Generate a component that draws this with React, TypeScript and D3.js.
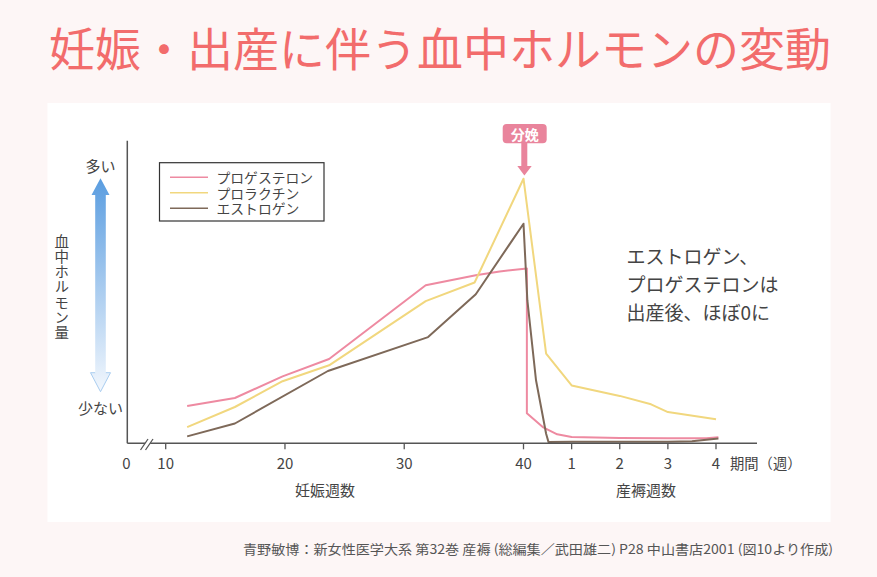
import React from "react";
import * as d3 from "d3";

// ---- data (t: pregnancy week; values >40 are 40 + postpartum weeks) ----
const progesteroneT = [11.8, 15.8, 19.8, 23.7, 31.8, 36, 38, 40.07, 40.07, 40.4, 40.7, 41, 42, 43, 43.8, 44.05];
const progesteroneV = [12.4, 15.1, 22.3, 28.1, 52.7, 56, 57.3, 58.3, 10, 5.4, 3, 2.1, 1.8, 1.7, 1.7, 2.0];

const prolactinT = [11.8, 15.8, 19.8, 23.7, 31.8, 35.9, 40, 40.47, 41, 42, 42.65, 43, 44];
const prolactinV = [5.4, 12.1, 20.7, 26, 47.4, 53.6, 88.2, 29.9, 19.3, 15.8, 13, 10.4, 8];

const estrogenT = [11.8, 15.8, 23.6, 32, 36, 40, 40.08, 40.26, 40.47, 40.52, 41, 42, 43, 43.5, 44.05];
const estrogenV = [2.3, 6.6, 24.1, 35.4, 49.7, 73.2, 47.7, 21, 3.2, 0.4, 0.5, 0.5, 0.5, 0.7, 1.6];

const pregTicks = [10, 20, 30, 40];
const postTicks = [1, 2, 3, 4];

const seriesNames = ["プロゲステロン", "プロラクチン", "エストロゲン"];
const seriesColors = ["#ee8aa1", "#f1d77e", "#7e6959"];

const title = "妊娠・出産に伴う血中ホルモンの変動";
const yLabel = "血中ホルモン量";
const noteLines = ["エストロゲン、", "プロゲステロンは", "出産後、ほぼ0に"];
const footer = "青野敏博：新女性医学大系 第32巻 産褥 (総編集／武田雄二) P28 中山書店2001 (図10より作成)";

const FONT = '"Noto Sans CJK JP", "Noto Sans", sans-serif';

export default function App() {
  const W = 877, H = 577;
  const x = d3.scaleLinear().domain([0, 10, 40, 44]).range([127.3, 165.7, 523.5, 716]);
  const y = d3.scaleLinear().domain([0, 100]).range([443.3, 143.3]);
  const axisY = 443.3, axisX = 127.3;

  const line = d3
    .line<[number, number]>()
    .x((d) => x(d[0]))
    .y((d) => y(d[1]));

  const series = [
    d3.zip(progesteroneT, progesteroneV) as [number, number][],
    d3.zip(prolactinT, prolactinV) as [number, number][],
    d3.zip(estrogenT, estrogenV) as [number, number][],
  ];

  const tickColor = "#555";

  return (
    <div style={{ position: "absolute", left: 0, top: 0 }}>
      <svg width={W} height={H} style={{ display: "block", fontFamily: FONT }}>
        <defs>
          <linearGradient id="arrowGrad" x1="0" y1="0" x2="0" y2="1">
            <stop offset="0%" stopColor="#5a9de0" />
            <stop offset="100%" stopColor="#f2f7fd" />
          </linearGradient>
        </defs>
        <rect x={0} y={0} width={W} height={H} fill="#fdf6f6" />
        <rect x={47.5} y={103} width={783} height={419} fill="#ffffff" />

        {/* Title */}
        <text x={440} y={46} textAnchor="middle" dominantBaseline="central" fontSize={46} fill="#f26c6c">
          {title}
        </text>

        {/* Lines */}
        {series.map((s, i) => (
          <path key={i} d={line(s) || ""} fill="none" stroke={seriesColors[i]} strokeWidth={2} strokeLinejoin="round" />
        ))}

        {/* Axes */}
        <line x1={axisX} y1={140.7} x2={axisX} y2={axisY} stroke={tickColor} strokeWidth={1.5} />
        <line x1={axisX} y1={axisY} x2={757} y2={axisY} stroke={tickColor} strokeWidth={1.5} />
        {/* break mark */}
        <polygon points="141,450 146,450 153,439 148,439" fill="#fff" />
        <line x1={140.5} y1={450} x2={148} y2={439} stroke={tickColor} strokeWidth={1.3} />
        <line x1={145.5} y1={450} x2={153} y2={439} stroke={tickColor} strokeWidth={1.3} />

        {pregTicks.map((t) => (
          <g key={"p" + t}>
            <line x1={x(t)} y1={axisY} x2={x(t)} y2={axisY + 6} stroke={tickColor} strokeWidth={1.3} />
            <text x={x(t)} y={462} textAnchor="middle" dominantBaseline="central" fontSize={15} fill="#444">
              {t}
            </text>
          </g>
        ))}
        {postTicks.map((t) => (
          <g key={"q" + t}>
            <line x1={x(40 + t)} y1={axisY} x2={x(40 + t)} y2={axisY + 6} stroke={tickColor} strokeWidth={1.3} />
            <text x={x(40 + t)} y={462} textAnchor="middle" dominantBaseline="central" fontSize={15} fill="#444">
              {t}
            </text>
          </g>
        ))}
        <text x={x(0) - 1} y={462} textAnchor="middle" dominantBaseline="central" fontSize={15} fill="#444">
          0
        </text>
        <text x={730} y={462} dominantBaseline="central" fontSize={14.3} fill="#444">
          期間（週）
        </text>
        <text x={325} y={489.5} textAnchor="middle" dominantBaseline="central" fontSize={15} fill="#444">
          妊娠週数
        </text>
        <text x={646} y={489.5} textAnchor="middle" dominantBaseline="central" fontSize={15} fill="#444">
          産褥週数
        </text>

        {/* Y indicator */}
        <text x={100.5} y={165.7} textAnchor="middle" dominantBaseline="central" fontSize={15} fill="#444">
          多い
        </text>
        <text x={100.5} y={407.7} textAnchor="middle" dominantBaseline="central" fontSize={15} fill="#444">
          少ない
        </text>
        <path
          d="M100.5,178.3 L109.5,195 L105.8,195 L105.8,372.7 L110.5,372.7 L100.5,391.7 L90.5,372.7 L95.2,372.7 L95.2,195 L91.5,195 Z"
          fill="url(#arrowGrad)"
        />
        <path
          d="M95.2,372.7 L90.5,372.7 L100.5,391.7 L110.5,372.7 L105.8,372.7"
          fill="none"
          stroke="#a9cdf0"
          strokeWidth={1}
        />
        <text
          x={61.7}
          y={287.3}
          textAnchor="middle"
          fontSize={14.5}
          fill="#444"
          letterSpacing={0.7}
          style={{ writingMode: "vertical-rl" }}
        >
          {yLabel}
        </text>

        {/* Legend */}
        <rect x={159.5} y={162.7} width={164.5} height={58.3} fill="#fff" stroke="#333" strokeWidth={1.2} />
        {seriesNames.map((n, i) => (
          <line
            key={n}
            x1={170}
            y1={177.3 + i * 15.5}
            x2={208}
            y2={177.3 + i * 15.5}
            stroke={seriesColors[i]}
            strokeWidth={1.5}
          />
        ))}
        <text fontSize={13.8} fill="#444">
          {seriesNames.map((n, i) => (
            <tspan key={n} x={216.5} y={177.3 + i * 15.5} dominantBaseline="central">
              {n}
            </tspan>
          ))}
        </text>

        {/* Delivery marker */}
        <rect x={502.7} y={124} width={44} height={19.3} rx={4} fill="#e9849c" />
        <text x={524.7} y={133.8} textAnchor="middle" dominantBaseline="central" fontSize={14} fontWeight={700} fill="#fff">
          分娩
        </text>
        <rect x={521.3} y={142} width={6} height={25} fill="#e9849c" />
        <polygon points="517.3,166 531.7,166 524.4,175.5" fill="#e9849c" />

        {/* Annotation */}
        {noteLines.map((l, i) => (
          <text key={i} x={626.5} y={255 + i * 28.3} dominantBaseline="central" fontSize={19} fill="#444">
            {l}
          </text>
        ))}

        {/* Footer */}
        <text
          x={833}
          y={548}
          textAnchor="end"
          dominantBaseline="central"
          fontSize={13}
          fill="#555"
          textLength={590}
          lengthAdjust="spacingAndGlyphs"
        >
          {footer}
        </text>
      </svg>
    </div>
  );
}
